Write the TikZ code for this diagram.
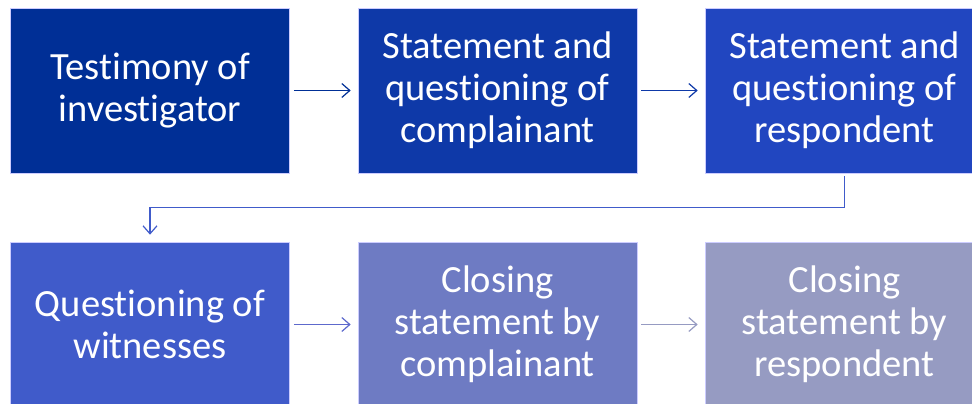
\documentclass[tikz,border=0pt]{standalone}
\usepackage{fontspec}
\setmainfont{Carlito}[Ligatures=NoCommon]
\usetikzlibrary{arrows.meta}
\definecolor{cA}{RGB}{0,47,150}
\definecolor{cB}{RGB}{14,57,168}
\definecolor{cC}{RGB}{33,70,192}
\definecolor{cD}{RGB}{64,91,202}
\definecolor{cE}{RGB}{110,123,195}
\definecolor{cF}{RGB}{150,155,194}
\begin{document}
\begin{tikzpicture}[x=1pt,y=-1pt,
  box/.style={rectangle, draw=white!80!blue, line width=0.6pt, minimum width=279pt, minimum height=165pt, inner sep=0pt,
    text=white, align=center, font=\fontsize{38.5}{42}\selectfont},
  conn/.style={line width=1.2pt, -{Straight Barb[length=8pt,width=14pt,line width=1.2pt]}, shorten <=4pt, shorten >=7pt}]
\useasboundingbox (0,0) rectangle (972,404);
\clip (0,0) rectangle (972,404);
\node[box, fill=cA] (b1) at (150,90.5) {Testimony of\\investigator};
\node[box, fill=cB] (b2) at (497.5,90.5) {Statement and\\questioning of\\complainant};
\node[box, fill=cC] (b3) at (844.5,90.5) {Statement and\\questioning of\\respondent};
\node[box, fill=cD] (b4) at (150,324.5) {Questioning of\\witnesses};
\node[box, fill=cE] (b5) at (497.5,324.5) {Closing\\statement by\\complainant};
\node[box, fill=cF] (b6) at (844.5,324.5) {Closing\\statement by\\respondent};
\draw[conn, draw=cA] (b1) -- (b2);
\draw[conn, draw=cB] (b2) -- (b3);
\draw[conn, draw=cD, shorten <=3pt] (b3.south) -- ++(0,34) -| (b4.north);
\draw[conn, draw=cE!85!blue] (b4) -- (b5);
\draw[conn, draw=cF] (b5) -- (b6);
\end{tikzpicture}
\end{document}
